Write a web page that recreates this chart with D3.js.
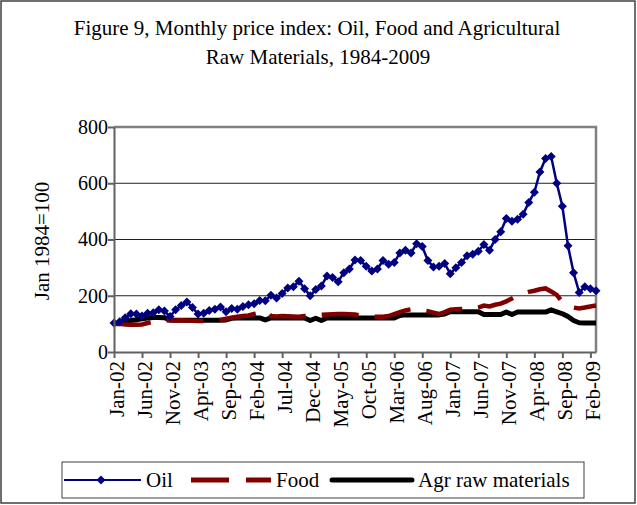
<!DOCTYPE html>
<html>
<head>
<meta charset="utf-8">
<script src="https://cdn.jsdelivr.net/npm/d3@7"></script>
<style>
  body { margin: 0; background: #fff; }
  svg { font-family: "Liberation Serif", "Times New Roman", serif; }
  .axis path, .axis line { stroke: #606060; stroke-width: 2; }
  .axis text { font-family: "Liberation Serif", "Times New Roman", serif; fill: #000; }
  .x-axis text { font-size: 21px; }
  .y-axis text { font-size: 20px; }
</style>
</head>
<body>
<svg id="chart" width="637" height="505"></svg>
<script>
// monthly values Jan-02 .. Mar-09
const oil = [
  103, 108, 122, 136, 135, 128, 138, 140, 150, 146, 126, 150,
  165, 178, 158, 135, 138, 148, 152, 160, 143, 155, 152, 162,
  168, 172, 183, 182, 202, 192, 208, 228, 232, 252, 225, 200,
  222, 235, 270, 265, 250, 282, 295, 327, 325, 305, 288, 295,
  325, 312, 318, 352, 362, 352, 385, 375, 325, 302, 305, 315,
  278, 300, 318, 342, 348, 358, 382, 362, 400, 428, 475, 465,
  472, 490, 532, 568, 640, 688, 695, 600, 518, 378, 282, 212,
  232, 225, 218
];
const food = [
  100, 100, 98, 97, 97, 98, 103, 108, 112, 113, 112, 112,
  113, 112, 111, 110, 110, 112, 112, 114, 118, 122, 125, 128,
  130, 135, 140, 148, 128, 126, 128, 127, 126, 125, 128, 130,
  130, 132, 133, 134, 135, 135, 134, 133, 130, 128, 126, 125,
  125, 128, 135, 142, 148, 152, 150, 148, 145, 140, 135, 142,
  150, 152, 153, 152, 154, 158, 165, 162, 168, 172, 180, 190,
  200, 208, 214, 218, 223, 226, 215, 203, 178, 165, 158, 155,
  158, 162, 165
];
const agr = [
  100, 104, 110, 112, 115, 118, 121, 123, 123, 122, 114, 113,
  113, 113, 113, 113, 113, 113, 113, 113, 114, 120, 121, 121,
  121, 121, 121, 114, 121, 121, 121, 121, 121, 121, 121, 112,
  120, 112, 121, 121, 121, 121, 121, 121, 121, 121, 121, 121,
  121, 121, 121, 130, 132, 132, 132, 132, 132, 132, 132, 135,
  143, 143, 143, 143, 143, 143, 133, 133, 133, 133, 142, 133,
  142, 142, 142, 142, 142, 142, 150, 143, 136, 126, 112, 104,
  103, 103, 103
];
const tickLabels = [
  "Jan-02", "Jun-02", "Nov-02", "Apr-03", "Sep-03", "Feb-04", "Jul-04",
  "Dec-04", "May-05", "Oct-05", "Mar-06", "Aug-06", "Jan-07", "Jun-07",
  "Nov-07", "Apr-08", "Sep-08", "Feb-09"
];
const yTicks = [0, 200, 400, 600, 800];

const fmt = d3.timeFormat("%b-%y");
const months = d3
  .timeMonth
  .range(new Date(2002, 0, 1), new Date(2009, 3, 1))
  .map((d) => fmt(d));

const svg = d3.select("#chart");
const width = Number(svg.attr("width"));

// outer frame
svg
  .append("rect")
  .attr("x", 1)
  .attr("y", 1)
  .attr("width", width - 3)
  .attr("height", 502)
  .attr("fill", "none")
  .attr("stroke", "#404040")
  .attr("stroke-width", 1.5);

svg
  .append("text")
  .attr("x", 317)
  .attr("y", 35)
  .attr("text-anchor", "middle")
  .attr("font-size", "21px")
  .text("Figure 9, Monthly price index: Oil, Food and Agricultural");
svg
  .append("text")
  .attr("x", 318)
  .attr("y", 64)
  .attr("text-anchor", "middle")
  .attr("font-size", "21px")
  .text("Raw Materials, 1984-2009");

const x = d3.scalePoint().domain(months).range([114, 596]);
const y = d3.scaleLinear().domain([0, 800]).range([352, 127]);

// gridlines
svg
  .append("g")
  .selectAll("line")
  .data(yTicks.filter((d) => d > 0 && d < 800))
  .join("line")
  .attr("x1", 114)
  .attr("x2", 596)
  .attr("y1", (d) => y(d))
  .attr("y2", (d) => y(d))
  .attr("stroke", "#202020")
  .attr("stroke-width", 1);

// plot frame top and right
svg
  .append("path")
  .attr("d", `M114,${y(800)}H596V${y(0)}`)
  .attr("fill", "none")
  .attr("stroke", "#808080")
  .attr("stroke-width", 2.5);

const lineGen = (vals) =>
  d3
    .line()
    .x((d, i) => x(months[i]))
    .y((d) => y(d))(vals);

svg
  .append("path")
  .attr("d", lineGen(agr))
  .attr("fill", "none")
  .attr("stroke", "#000")
  .attr("stroke-width", 5)
  .attr("stroke-linejoin", "round");

svg
  .append("path")
  .attr("d", lineGen(food))
  .attr("fill", "none")
  .attr("stroke", "#800000")
  .attr("stroke-width", 4.5)
  .attr("stroke-dasharray", "37,16");

svg
  .append("path")
  .attr("d", lineGen(oil))
  .attr("fill", "none")
  .attr("stroke", "#000080")
  .attr("stroke-width", 2.5);

const diamond = "M0,-4.5L4.5,0L0,4.5L-4.5,0Z";
svg
  .append("g")
  .selectAll("path")
  .data(oil)
  .join("path")
  .attr("d", diamond)
  .attr("transform", (d, i) => `translate(${x(months[i])},${y(d)})`)
  .attr("fill", "#000080");

// axes
const xAxis = svg
  .append("g")
  .attr("class", "axis x-axis")
  .attr("transform", `translate(0,${y(0)})`)
  .call(d3.axisBottom(x).tickValues(tickLabels).tickSize(6).tickSizeOuter(0));
xAxis
  .selectAll("text")
  .attr("transform", "rotate(-90)")
  .attr("text-anchor", "end")
  .attr("x", -9)
  .attr("y", 2)
  .attr("dy", "0.35em");

svg
  .append("g")
  .attr("class", "axis y-axis")
  .attr("transform", "translate(114,0)")
  .call(d3.axisLeft(y).tickValues(yTicks).tickSize(6).tickSizeOuter(0))
  .selectAll("text")
  .attr("x", -6);

svg
  .append("text")
  .attr("transform", "translate(49,241) rotate(-90)")
  .attr("text-anchor", "middle")
  .attr("font-size", "21px")
  .text("Jan 1984=100");

// legend
const legend = svg.append("g");
legend
  .append("rect")
  .attr("x", 62)
  .attr("y", 462)
  .attr("width", 522)
  .attr("height", 36)
  .attr("fill", "#fff")
  .attr("stroke", "#404040")
  .attr("stroke-width", 1);
const ly = 480;
legend
  .append("line")
  .attr("x1", 64)
  .attr("x2", 141)
  .attr("y1", ly)
  .attr("y2", ly)
  .attr("stroke", "#000080")
  .attr("stroke-width", 2);
legend
  .append("path")
  .attr("d", diamond)
  .attr("transform", `translate(101,${ly})`)
  .attr("fill", "#000080");
legend
  .append("line")
  .attr("x1", 191)
  .attr("x2", 271)
  .attr("y1", ly)
  .attr("y2", ly)
  .attr("stroke", "#800000")
  .attr("stroke-width", 5)
  .attr("stroke-dasharray", "38,17");
legend
  .append("line")
  .attr("x1", 332)
  .attr("x2", 412)
  .attr("y1", ly)
  .attr("y2", ly)
  .attr("stroke", "#000")
  .attr("stroke-width", 5)
  .attr("stroke-linecap", "round");
const legendTexts = [
  { x: 146, t: "Oil" },
  { x: 276, t: "Food" },
  { x: 418, t: "Agr raw materials" },
];
legend
  .selectAll("text")
  .data(legendTexts)
  .join("text")
  .attr("x", (d) => d.x)
  .attr("y", ly + 7)
  .attr("font-size", "21px")
  .text((d) => d.t);
</script>
</body>
</html>
